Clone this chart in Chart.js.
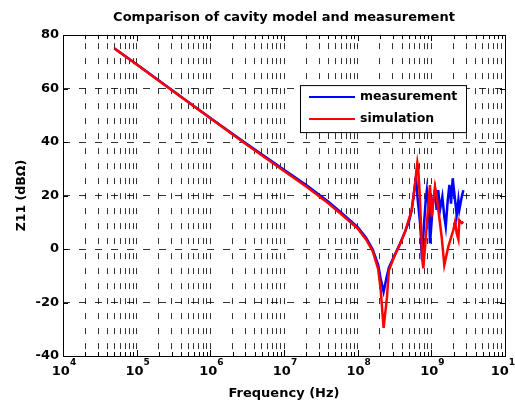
<!DOCTYPE html>
<html lang="en">
<head>
  <meta charset="UTF-8">
  <title>Comparison of cavity model and measurement</title>
  <script src="https://cdn.jsdelivr.net/npm/chart.js"></script>
</head>
<style>
  html, body { margin: 0; padding: 0; background: #fff; }
  #divChart { width: 515px; height: 404px; }
</style>
<body>
  <div id="divChart">
    <canvas id="z11Chart" width="515" height="404"></canvas>
  </div>
  <script>
    // Datos
    const decadas = [4, 5, 6, 7, 8, 9, 10];
    const yTicks = [-40, -20, 0, 20, 40, 60, 80];

    const measFreq = [5e4, 1e5, 3e5, 1e6, 3e6, 1e7, 2e7, 4e7, 6e7, 1e8, 1.3e8, 1.6e8, 1.9e8, 2.05e8, 2.25e8, 2.45e8, 2.65e8, 3.1e8, 3.76e8, 4.4e8, 5.0e8, 5.42e8, 5.8e8, 6.19e8, 6.5e8, 7.02e8, 7.24e8, 7.45e8, 7.9e8, 8.39e8, 8.7e8, 9.3e8, 9.59e8, 1.06e9, 1.12e9, 1.18e9, 1.24e9, 1.31e9, 1.41e9, 1.5e9, 1.57e9, 1.67e9, 1.76e9, 1.85e9, 1.95e9, 2.05e9, 2.21e9, 2.33e9, 2.4e9, 2.59e9, 2.72e9];
    const measZ = [75.0, 69.1, 59.5, 49.0, 39.6, 29.6, 23.9, 17.7, 13.6, 8.2, 4.2, -0.2, -6, -11, -16, -11, -7, -2.9, 2.1, 6.5, 10.5, 14.6, 21, 27, 19, 10, 4, -4, 8, 18.3, 22, 14.6, 2.1, 18.3, 22, 14.6, 22, 14.6, 19.6, 12.1, 8.4, 18.3, 24, 17, 26.4, 21, 12.7, 18.3, 14.6, 19.6, 22];

    const simFreq = [5e4, 1e5, 3e5, 1e6, 3e6, 1e7, 2e7, 4e7, 6e7, 1e8, 1.3e8, 1.6e8, 1.9e8, 2.05e8, 2.25e8, 2.5e8, 2.65e8, 3.1e8, 3.76e8, 4.4e8, 5.42e8, 6.0e8, 6.46e8, 6.65e8, 7.02e8, 7.55e8, 7.78e8, 8.39e8, 9.59e8, 1.01e9, 1.12e9, 1.18e9, 1.38e9, 1.5e9, 1.7e9, 1.99e9, 2.1e9, 2.21e9, 2.33e9, 2.4e9, 2.59e9, 2.72e9];
    const simZ = [75.0, 69.0, 59.4, 48.9, 39.4, 29.2, 23.4, 17.1, 13.0, 7.7, 3.6, -0.8, -7.5, -15, -29.5, -18, -8, -3.2, 1.8, 6.5, 14.6, 24, 32.3, 30, 18.3, -4.1, -7.2, 4, 23.9, 12.1, 23.3, 20, 4.6, -6, 0.9, 7.1, 10.2, 5.9, 3.6, 10.8, 9.7, 10.2];

    const fuente = '"DejaVu Sans", sans-serif';

    // posiciones de la rejilla logaritmica: 1..9 x 10^n
    const xTickVals = [];
    decadas.forEach(e => {
      if (e === decadas[decadas.length - 1]) { xTickVals.push(Math.pow(10, e)); return; }
      for (let k = 1; k <= 9; k++) xTickVals.push(k * Math.pow(10, e));
    });

    // caja estilo matlab, marcas hacia dentro y etiquetas 10^n
    const cajaPlugin = {
      id: 'caja',
      afterDatasetsDraw(chart) {
        const {ctx, chartArea: a, scales: {x, y}} = chart;
        ctx.save();
        ctx.strokeStyle = '#000';
        ctx.lineWidth = 1;
        ctx.setLineDash([]);
        ctx.beginPath();
        y.ticks.forEach(t => {
          const py = Math.round(y.getPixelForValue(t.value)) + 0.5;
          ctx.moveTo(a.left, py); ctx.lineTo(a.left + 5, py);
          ctx.moveTo(a.right, py); ctx.lineTo(a.right - 5, py);
        });
        x.ticks.forEach(t => {
          const px = Math.round(x.getPixelForValue(t.value)) + 0.5;
          const len = Number.isInteger(Math.log10(t.value)) ? 6 : 4;
          ctx.moveTo(px, a.bottom); ctx.lineTo(px, a.bottom - len);
          ctx.moveTo(px, a.top); ctx.lineTo(px, a.top + len);
        });
        ctx.stroke();
        ctx.strokeRect(Math.round(a.left) + 0.5, Math.round(a.top) + 0.5, Math.round(a.right - a.left), Math.round(a.bottom - a.top));

        // etiquetas del eje x
        ctx.fillStyle = '#000';
        ctx.textBaseline = 'middle';
        ctx.textAlign = 'left';
        decadas.forEach(e => {
          const px = x.getPixelForValue(Math.pow(10, e));
          ctx.font = 'bold 13px ' + fuente;
          const w10 = ctx.measureText('10').width;
          ctx.font = 'bold 9px ' + fuente;
          const wExp = ctx.measureText(String(e)).width;
          const x0 = px - (w10 + wExp) / 2 + 1;
          ctx.font = 'bold 13px ' + fuente;
          ctx.fillText('10', x0, a.bottom + 16);
          ctx.font = 'bold 9px ' + fuente;
          ctx.fillText(String(e), x0 + w10, a.bottom + 7);
        });

        // leyenda
        const lx = a.left + 237, ly = a.top + 50, lw = 166, lh = 47;
        ctx.fillStyle = '#fff';
        ctx.fillRect(lx, ly, lw, lh);
        ctx.strokeStyle = '#000';
        ctx.strokeRect(lx + 0.5, ly + 0.5, lw, lh);
        ctx.font = 'bold 12.5px ' + fuente;
        chart.data.datasets.forEach((ds, i) => {
          const cy = ly + 12 + i * 22;
          ctx.strokeStyle = ds.borderColor;
          ctx.lineWidth = 2;
          ctx.beginPath();
          ctx.moveTo(lx + 9, cy); ctx.lineTo(lx + 55, cy);
          ctx.stroke();
          ctx.fillStyle = '#000';
          ctx.fillText(ds.label, lx + 60, cy);
        });
        ctx.restore();
      }
    };

    const ctxZ = document.getElementById('z11Chart').getContext('2d');
    new Chart(ctxZ, {
      type: 'line',
      data: {
        datasets: [{
          label: 'measurement',
          data: measFreq.map((f, i) => ({x: f, y: measZ[i]})),
          borderColor: '#0000ff',
          borderWidth: 2.5,
          pointRadius: 0,
          tension: 0,
          order: 2
        },
        {
          label: 'simulation',
          data: simFreq.map((f, i) => ({x: f, y: simZ[i]})),
          borderColor: '#ff0000',
          borderWidth: 2.5,
          pointRadius: 0,
          tension: 0,
          order: 1
        }]
      },
      options: {
        responsive: false,
        animation: false,
        events: [],
        layout: { padding: { left: 0, right: 10, top: 0, bottom: 0 } },
        plugins: {
          legend: { display: false },
          tooltip: { enabled: false },
          title: {
            display: true,
            text: 'Comparison of cavity model and measurement',
            color: '#000',
            fullSize: false,
            font: { family: fuente, size: 13, weight: 'bold' },
            padding: { top: 10, bottom: 9.5 }
          }
        },
        scales: {
          x: {
            type: 'logarithmic',
            min: 1e4,
            max: 1e10,
            afterBuildTicks: scale => { scale.ticks = xTickVals.map(v => ({value: v})); },
            afterFit: scale => { scale.height = 48; },
            ticks: { display: false, autoSkip: false },
            grid: { color: 'rgba(0,0,0,0.8)', lineWidth: 1, drawTicks: false },
            border: { display: false, dash: [6, 9], dashOffset: 7 },
            title: {
              display: true,
              text: 'Frequency (Hz)',
              color: '#000',
              font: { family: fuente, size: 13, weight: 'bold' },
              padding: { top: 0, bottom: 3 }
            }
          },
          y: {
            min: -40,
            max: 80,
            afterBuildTicks: scale => { scale.ticks = yTicks.map(v => ({value: v})); },
            afterFit: scale => { scale.width = 63; },
            ticks: {
              color: '#000',
              padding: 4,
              font: { family: fuente, size: 13, weight: 'bold' }
            },
            grid: { color: 'rgba(0,0,0,0.8)', lineWidth: 1, drawTicks: false },
            border: { display: false, dash: [7, 9], dashOffset: 0 },
            title: {
              display: true,
              text: 'Z11 (dBΩ)',
              color: '#000',
              font: { family: fuente, size: 12.5, weight: 'bold' },
              padding: { top: 14, bottom: 0 }
            }
          }
        }
      },
      plugins: [cajaPlugin]
    });
  </script>
</body>
</html>
